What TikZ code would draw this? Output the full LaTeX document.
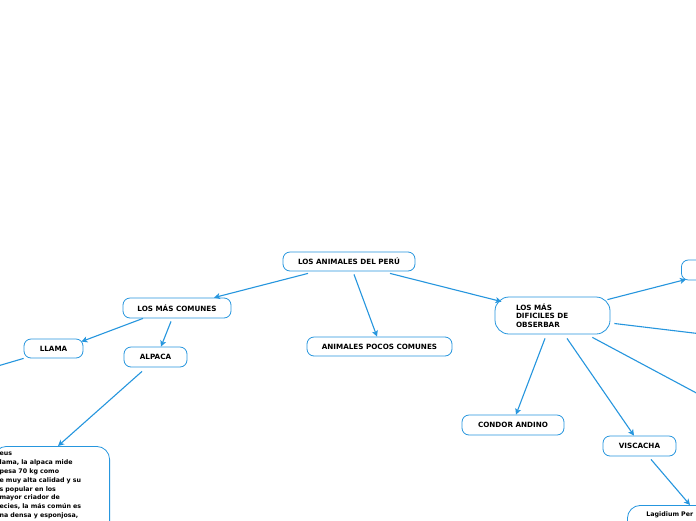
\documentclass[tikz,border=0pt]{standalone}
\usepackage{fontspec}
\setmainfont{DejaVu Sans}
\usepackage{xcolor}
\usepackage{tikz}
\usetikzlibrary{arrows.meta}

\definecolor{mmblue}{RGB}{38,150,222}

\tikzset{
  topic/.style={draw=mmblue, fill=white, line width=0.8pt, rounded corners=7pt,
    inner sep=0pt, font=\fontsize{7.2}{8.7}\selectfont\bfseries},
  note/.style={draw=mmblue, fill=white, line width=0.8pt, rounded corners=13pt,
    font=\fontsize{6.3}{8.8}\selectfont\bfseries, align=left},
  link/.style={draw=mmblue, line width=1.1pt, -{Stealth[length=6pt,width=6pt,inset=1.5pt]}}
}

\begin{document}
\begin{tikzpicture}[x=1pt,y=-1pt]
  \useasboundingbox (0,0) rectangle (696,520);
  \clip (0,0) rectangle (696,520);
  \fill[white] (0,0) rectangle (696,520);

  \node[topic, minimum width=132pt, minimum height=19pt] (root) at (349,261.5) {LOS ANIMALES DEL PERÚ};
  \node[topic, minimum width=108pt, minimum height=20pt] (coms) at (177,308) {LOS MÁS COMUNES};
  \node[topic, minimum width=145pt, minimum height=19pt] (pocos) at (379.5,346.5) {ANIMALES POCOS COMUNES};
  \node[topic, minimum width=115pt, minimum height=37pt, rounded corners=14pt,
        text width=73pt, align=left] (dif) at (552.5,315.5) {LOS MÁS\\DIFICILES DE\\OBSERBAR};
  \node[topic, minimum width=59pt, minimum height=19pt] (llama) at (53.5,348.5) {LLAMA};
  \node[topic, minimum width=63pt, minimum height=20pt] (alpaca) at (155.5,357) {ALPACA};
  \node[topic, minimum width=102pt, minimum height=20pt] (condor) at (513,425) {CONDOR ANDINO};
  \node[topic, minimum width=73pt, minimum height=20pt] (viscacha) at (639.5,446) {VISCACHA};
  \node[topic, minimum width=60pt, minimum height=20pt, anchor=west] (rtop) at (681,270) {};

  \node[note, anchor=north east, text width=104pt, inner xsep=6pt, inner ysep=6pt,
        text depth=80pt] (alpacatxt) at (110,446)
    {eus\\lama, la alpaca mide\\pesa 70 kg como\\e muy alta calidad y su\\s popular en los\\mayor criador de\\ecies, la más común es\\na densa y esponjosa,};
  \node[note, anchor=north west, text width=120pt, inner xsep=19pt, inner ysep=6pt,
        text depth=30pt] (lagidium) at (627,505) {Lagidium Per};

  \coordinate (llamaout) at (-60,383);
  \coordinate (difout1) at (760,341);
  \coordinate (difout2) at (760,427);

  \draw[link] ([xshift=-41pt,yshift=-2pt]root.south) -- ([xshift=37pt]coms.north);
  \draw[link] ([xshift=5pt,yshift=-3pt]root.south) -- ([xshift=-2.5pt]pocos.north);
  \draw[link] ([xshift=41pt,yshift=-2pt]root.south) -- ([xshift=7pt,yshift=-5pt]dif.north west);
  \draw[link] ([xshift=-34pt]coms.south) -- ([xshift=-2pt,yshift=-3pt]llama.north east);
  \draw[link] ([xshift=-6pt,yshift=-3pt]coms.south) -- ([xshift=5.5pt]alpaca.north);
  \draw[link] (llama.south west) -- (llamaout);
  \draw[link] ([xshift=-13.5pt,yshift=-4pt]alpaca.south) -- ([xshift=-52pt]alpacatxt.north east);
  \draw[link] ([xshift=-3pt,yshift=-3pt]dif.north east) -- ([xshift=5pt,yshift=1pt]rtop.south west);
  \draw[link] ([xshift=4pt,yshift=-8pt]dif.east) -- (difout1);
  \draw[link] ([xshift=-18pt,yshift=-3pt]dif.south east) -- (difout2);
  \draw[link] ([xshift=-7.5pt,yshift=-4pt]dif.south) -- ([xshift=3pt]condor.north);
  \draw[link] ([xshift=14.5pt,yshift=-4pt]dif.south) -- ([xshift=-5.5pt]viscacha.north);
  \draw[link] ([xshift=11.5pt,yshift=-3pt]viscacha.south) -- ([xshift=63pt]lagidium.north west);
\end{tikzpicture}
\end{document}
